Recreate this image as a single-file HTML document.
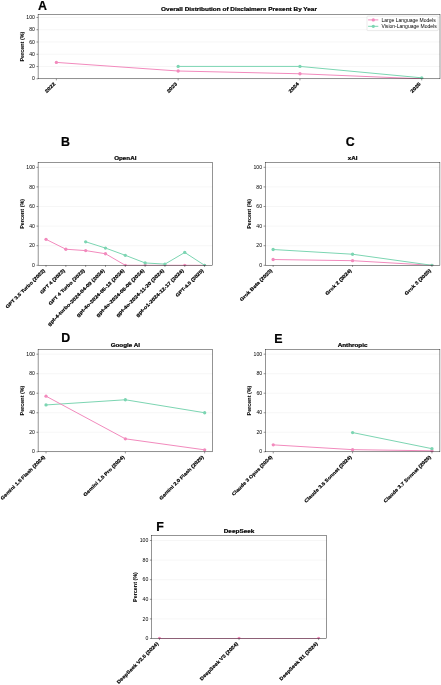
<!DOCTYPE html>
<html><head><meta charset="utf-8"><title>Disclaimers</title>
<style>
html,body{margin:0;padding:0;background:#fff;}
body{width:441px;height:685px;overflow:hidden;}
svg{display:block;font-family:"Liberation Sans",sans-serif;filter:blur(0.35px);}
</style></head><body>
<svg width="441" height="685" viewBox="0 0 441 685">
<rect width="441" height="685" fill="#fff"/>
<line x1="38.10" y1="78.80" x2="440.00" y2="78.80" stroke="#f0f0f0" stroke-width="0.6"/>
<line x1="38.10" y1="66.53" x2="440.00" y2="66.53" stroke="#f0f0f0" stroke-width="0.6"/>
<line x1="38.10" y1="54.27" x2="440.00" y2="54.27" stroke="#f0f0f0" stroke-width="0.6"/>
<line x1="38.10" y1="42.00" x2="440.00" y2="42.00" stroke="#f0f0f0" stroke-width="0.6"/>
<line x1="38.10" y1="29.73" x2="440.00" y2="29.73" stroke="#f0f0f0" stroke-width="0.6"/>
<line x1="38.10" y1="17.47" x2="440.00" y2="17.47" stroke="#f0f0f0" stroke-width="0.6"/>
<clipPath id="c1"><rect x="37.80" y="14.10" width="402.50" height="65.00"/></clipPath>
<g clip-path="url(#c1)">
<polyline points="56.37,62.42 178.16,71.01 299.94,73.77 421.73,78.80" fill="none" stroke="#f28abd" stroke-width="1.0" stroke-linejoin="round"/>
<circle cx="56.37" cy="62.42" r="1.65" fill="#f28abd"/>
<circle cx="178.16" cy="71.01" r="1.65" fill="#f28abd"/>
<circle cx="299.94" cy="73.77" r="1.65" fill="#f28abd"/>
<circle cx="421.73" cy="78.80" r="1.65" fill="#f28abd"/>
<polyline points="178.16,66.41 299.94,66.41 421.73,77.82" fill="none" stroke="#7cd5b2" stroke-width="1.0" stroke-linejoin="round"/>
<circle cx="178.16" cy="66.41" r="1.65" fill="#7cd5b2"/>
<circle cx="299.94" cy="66.41" r="1.65" fill="#7cd5b2"/>
<circle cx="421.73" cy="77.82" r="1.65" fill="#7cd5b2"/>
</g>
<rect x="38.10" y="14.40" width="401.90" height="64.40" fill="none" stroke="#000" stroke-width="0.42"/>
<line x1="36.50" y1="78.80" x2="38.10" y2="78.80" stroke="#000" stroke-width="0.42"/>
<text x="34.95" y="80.40" font-size="4.77" text-anchor="end" textLength="2.86" lengthAdjust="spacingAndGlyphs">0</text>
<line x1="36.50" y1="66.53" x2="38.10" y2="66.53" stroke="#000" stroke-width="0.42"/>
<text x="34.95" y="68.13" font-size="4.77" text-anchor="end" textLength="5.73" lengthAdjust="spacingAndGlyphs">20</text>
<line x1="36.50" y1="54.27" x2="38.10" y2="54.27" stroke="#000" stroke-width="0.42"/>
<text x="34.95" y="55.87" font-size="4.77" text-anchor="end" textLength="5.73" lengthAdjust="spacingAndGlyphs">40</text>
<line x1="36.50" y1="42.00" x2="38.10" y2="42.00" stroke="#000" stroke-width="0.42"/>
<text x="34.95" y="43.60" font-size="4.77" text-anchor="end" textLength="5.73" lengthAdjust="spacingAndGlyphs">60</text>
<line x1="36.50" y1="29.73" x2="38.10" y2="29.73" stroke="#000" stroke-width="0.42"/>
<text x="34.95" y="31.33" font-size="4.77" text-anchor="end" textLength="5.73" lengthAdjust="spacingAndGlyphs">80</text>
<line x1="36.50" y1="17.47" x2="38.10" y2="17.47" stroke="#000" stroke-width="0.42"/>
<text x="34.95" y="19.07" font-size="4.77" text-anchor="end" textLength="8.59" lengthAdjust="spacingAndGlyphs">100</text>
<line x1="56.37" y1="78.80" x2="56.37" y2="80.40" stroke="#000" stroke-width="0.42"/>
<text transform="translate(55.70,84.37) rotate(-45)" font-size="4.77" font-weight="bold" stroke="#000" stroke-width="0.18" text-anchor="end" textLength="12.52" lengthAdjust="spacingAndGlyphs">2022</text>
<line x1="178.16" y1="78.80" x2="178.16" y2="80.40" stroke="#000" stroke-width="0.42"/>
<text transform="translate(177.49,84.37) rotate(-45)" font-size="4.77" font-weight="bold" stroke="#000" stroke-width="0.18" text-anchor="end" textLength="12.52" lengthAdjust="spacingAndGlyphs">2023</text>
<line x1="299.94" y1="78.80" x2="299.94" y2="80.40" stroke="#000" stroke-width="0.42"/>
<text transform="translate(299.28,84.37) rotate(-45)" font-size="4.77" font-weight="bold" stroke="#000" stroke-width="0.18" text-anchor="end" textLength="12.52" lengthAdjust="spacingAndGlyphs">2024</text>
<line x1="421.73" y1="78.80" x2="421.73" y2="80.40" stroke="#000" stroke-width="0.42"/>
<text transform="translate(421.06,84.37) rotate(-45)" font-size="4.77" font-weight="bold" stroke="#000" stroke-width="0.18" text-anchor="end" textLength="12.52" lengthAdjust="spacingAndGlyphs">2025</text>
<text transform="translate(23.70,46.60) rotate(-90)" font-size="4.77" font-weight="bold" stroke="#000" stroke-width="0.03" text-anchor="middle" textLength="29.83" lengthAdjust="spacingAndGlyphs">Percent (%)</text>
<text x="239.05" y="11.45" font-size="5.83" font-weight="bold" stroke="#000" stroke-width="0.22" text-anchor="middle" textLength="155.83" lengthAdjust="spacingAndGlyphs">Overall Distribution of Disclaimers Present By Year</text>
<text x="38.00" y="9.60" font-size="12.4" font-weight="bold" stroke="#000" stroke-width="0.2">A</text>
<rect x="367.0" y="16.1" width="71.1" height="14.5" rx="0.9" fill="#fff" fill-opacity="0.8" stroke="#ccc" stroke-width="0.4"/>
<line x1="368.1" y1="19.9" x2="378.3" y2="19.9" stroke="#f28abd" stroke-width="1.0"/>
<circle cx="373.3" cy="19.9" r="1.65" fill="#f28abd"/>
<text x="381.50" y="21.50" font-size="4.82" textLength="54.18" lengthAdjust="spacingAndGlyphs">Large Language Models</text>
<line x1="368.1" y1="26.3" x2="378.3" y2="26.3" stroke="#7cd5b2" stroke-width="1.0"/>
<circle cx="373.3" cy="26.3" r="1.65" fill="#7cd5b2"/>
<text x="381.50" y="27.90" font-size="4.82" textLength="55.15" lengthAdjust="spacingAndGlyphs">Vision-Language Models</text>
<line x1="38.10" y1="265.30" x2="212.50" y2="265.30" stroke="#f0f0f0" stroke-width="0.6"/>
<line x1="38.10" y1="245.70" x2="212.50" y2="245.70" stroke="#f0f0f0" stroke-width="0.6"/>
<line x1="38.10" y1="226.10" x2="212.50" y2="226.10" stroke="#f0f0f0" stroke-width="0.6"/>
<line x1="38.10" y1="206.50" x2="212.50" y2="206.50" stroke="#f0f0f0" stroke-width="0.6"/>
<line x1="38.10" y1="186.90" x2="212.50" y2="186.90" stroke="#f0f0f0" stroke-width="0.6"/>
<line x1="38.10" y1="167.30" x2="212.50" y2="167.30" stroke="#f0f0f0" stroke-width="0.6"/>
<clipPath id="c2"><rect x="37.80" y="162.10" width="175.00" height="103.50"/></clipPath>
<g clip-path="url(#c2)">
<polyline points="46.03,239.33 65.85,249.23 85.66,250.60 105.48,253.74 125.30,265.30 145.12,265.30 164.94,265.30 184.75,265.30 204.57,265.30" fill="none" stroke="#f28abd" stroke-width="1.0" stroke-linejoin="round"/>
<circle cx="46.03" cy="239.33" r="1.65" fill="#f28abd"/>
<circle cx="65.85" cy="249.23" r="1.65" fill="#f28abd"/>
<circle cx="85.66" cy="250.60" r="1.65" fill="#f28abd"/>
<circle cx="105.48" cy="253.74" r="1.65" fill="#f28abd"/>
<circle cx="125.30" cy="265.30" r="1.65" fill="#f28abd"/>
<circle cx="145.12" cy="265.30" r="1.65" fill="#f28abd"/>
<circle cx="164.94" cy="265.30" r="1.65" fill="#f28abd"/>
<circle cx="184.75" cy="265.30" r="1.65" fill="#f28abd"/>
<circle cx="204.57" cy="265.30" r="1.65" fill="#f28abd"/>
<polyline points="85.66,241.78 105.48,248.05 125.30,255.30 145.12,262.95 164.94,264.12 184.75,252.46 204.57,265.30" fill="none" stroke="#7cd5b2" stroke-width="1.0" stroke-linejoin="round"/>
<circle cx="85.66" cy="241.78" r="1.65" fill="#7cd5b2"/>
<circle cx="105.48" cy="248.05" r="1.65" fill="#7cd5b2"/>
<circle cx="125.30" cy="255.30" r="1.65" fill="#7cd5b2"/>
<circle cx="145.12" cy="262.95" r="1.65" fill="#7cd5b2"/>
<circle cx="164.94" cy="264.12" r="1.65" fill="#7cd5b2"/>
<circle cx="184.75" cy="252.46" r="1.65" fill="#7cd5b2"/>
<circle cx="204.57" cy="265.30" r="1.65" fill="#7cd5b2"/>
</g>
<rect x="38.10" y="162.40" width="174.40" height="102.90" fill="none" stroke="#000" stroke-width="0.42"/>
<line x1="36.50" y1="265.30" x2="38.10" y2="265.30" stroke="#000" stroke-width="0.42"/>
<text x="34.95" y="266.90" font-size="4.77" text-anchor="end" textLength="2.86" lengthAdjust="spacingAndGlyphs">0</text>
<line x1="36.50" y1="245.70" x2="38.10" y2="245.70" stroke="#000" stroke-width="0.42"/>
<text x="34.95" y="247.30" font-size="4.77" text-anchor="end" textLength="5.73" lengthAdjust="spacingAndGlyphs">20</text>
<line x1="36.50" y1="226.10" x2="38.10" y2="226.10" stroke="#000" stroke-width="0.42"/>
<text x="34.95" y="227.70" font-size="4.77" text-anchor="end" textLength="5.73" lengthAdjust="spacingAndGlyphs">40</text>
<line x1="36.50" y1="206.50" x2="38.10" y2="206.50" stroke="#000" stroke-width="0.42"/>
<text x="34.95" y="208.10" font-size="4.77" text-anchor="end" textLength="5.73" lengthAdjust="spacingAndGlyphs">60</text>
<line x1="36.50" y1="186.90" x2="38.10" y2="186.90" stroke="#000" stroke-width="0.42"/>
<text x="34.95" y="188.50" font-size="4.77" text-anchor="end" textLength="5.73" lengthAdjust="spacingAndGlyphs">80</text>
<line x1="36.50" y1="167.30" x2="38.10" y2="167.30" stroke="#000" stroke-width="0.42"/>
<text x="34.95" y="168.90" font-size="4.77" text-anchor="end" textLength="8.59" lengthAdjust="spacingAndGlyphs">100</text>
<line x1="46.03" y1="265.30" x2="46.03" y2="266.90" stroke="#000" stroke-width="0.42"/>
<text transform="translate(45.36,270.87) rotate(-45)" font-size="4.77" font-weight="bold" stroke="#000" stroke-width="0.18" text-anchor="end" textLength="53.68" lengthAdjust="spacingAndGlyphs">GPT 3.5 Turbo (2022)</text>
<line x1="65.85" y1="265.30" x2="65.85" y2="266.90" stroke="#000" stroke-width="0.42"/>
<text transform="translate(65.18,270.87) rotate(-45)" font-size="4.77" font-weight="bold" stroke="#000" stroke-width="0.18" text-anchor="end" textLength="32.96" lengthAdjust="spacingAndGlyphs">GPT 4 (2023)</text>
<line x1="85.66" y1="265.30" x2="85.66" y2="266.90" stroke="#000" stroke-width="0.42"/>
<text transform="translate(85.00,270.87) rotate(-45)" font-size="4.77" font-weight="bold" stroke="#000" stroke-width="0.18" text-anchor="end" textLength="48.84" lengthAdjust="spacingAndGlyphs">GPT 4 Turbo (2023)</text>
<line x1="105.48" y1="265.30" x2="105.48" y2="266.90" stroke="#000" stroke-width="0.42"/>
<text transform="translate(104.81,270.87) rotate(-45)" font-size="4.77" font-weight="bold" stroke="#000" stroke-width="0.18" text-anchor="end" textLength="78.20" lengthAdjust="spacingAndGlyphs">gpt-4-turbo-2024-04-09 (2024)</text>
<line x1="125.30" y1="265.30" x2="125.30" y2="266.90" stroke="#000" stroke-width="0.42"/>
<text transform="translate(124.63,270.87) rotate(-45)" font-size="4.77" font-weight="bold" stroke="#000" stroke-width="0.18" text-anchor="end" textLength="65.54" lengthAdjust="spacingAndGlyphs">gpt-4o-2024-05-13 (2024)</text>
<line x1="145.12" y1="265.30" x2="145.12" y2="266.90" stroke="#000" stroke-width="0.42"/>
<text transform="translate(144.45,270.87) rotate(-45)" font-size="4.77" font-weight="bold" stroke="#000" stroke-width="0.18" text-anchor="end" textLength="65.54" lengthAdjust="spacingAndGlyphs">gpt-4o-2024-08-06 (2024)</text>
<line x1="164.94" y1="265.30" x2="164.94" y2="266.90" stroke="#000" stroke-width="0.42"/>
<text transform="translate(164.27,270.87) rotate(-45)" font-size="4.77" font-weight="bold" stroke="#000" stroke-width="0.18" text-anchor="end" textLength="65.54" lengthAdjust="spacingAndGlyphs">gpt-4o-2024-11-20 (2024)</text>
<line x1="184.75" y1="265.30" x2="184.75" y2="266.90" stroke="#000" stroke-width="0.42"/>
<text transform="translate(184.09,270.87) rotate(-45)" font-size="4.77" font-weight="bold" stroke="#000" stroke-width="0.18" text-anchor="end" textLength="65.54" lengthAdjust="spacingAndGlyphs">gpt-o1-2024-12-17 (2024)</text>
<line x1="204.57" y1="265.30" x2="204.57" y2="266.90" stroke="#000" stroke-width="0.42"/>
<text transform="translate(203.90,270.87) rotate(-45)" font-size="4.77" font-weight="bold" stroke="#000" stroke-width="0.18" text-anchor="end" textLength="37.44" lengthAdjust="spacingAndGlyphs">GPT-4.5 (2025)</text>
<text transform="translate(23.70,213.85) rotate(-90)" font-size="4.77" font-weight="bold" stroke="#000" stroke-width="0.03" text-anchor="middle" textLength="29.83" lengthAdjust="spacingAndGlyphs">Percent (%)</text>
<text x="125.30" y="159.85" font-size="5.83" font-weight="bold" stroke="#000" stroke-width="0.22" text-anchor="middle" textLength="22.22" lengthAdjust="spacingAndGlyphs">OpenAI</text>
<text x="61.00" y="146.30" font-size="12.4" font-weight="bold" stroke="#000" stroke-width="0.2">B</text>
<line x1="265.20" y1="265.30" x2="439.90" y2="265.30" stroke="#f0f0f0" stroke-width="0.6"/>
<line x1="265.20" y1="245.70" x2="439.90" y2="245.70" stroke="#f0f0f0" stroke-width="0.6"/>
<line x1="265.20" y1="226.10" x2="439.90" y2="226.10" stroke="#f0f0f0" stroke-width="0.6"/>
<line x1="265.20" y1="206.50" x2="439.90" y2="206.50" stroke="#f0f0f0" stroke-width="0.6"/>
<line x1="265.20" y1="186.90" x2="439.90" y2="186.90" stroke="#f0f0f0" stroke-width="0.6"/>
<line x1="265.20" y1="167.30" x2="439.90" y2="167.30" stroke="#f0f0f0" stroke-width="0.6"/>
<clipPath id="c3"><rect x="264.90" y="162.10" width="175.30" height="103.50"/></clipPath>
<g clip-path="url(#c3)">
<polyline points="273.14,259.52 352.55,260.69 431.96,265.30" fill="none" stroke="#f28abd" stroke-width="1.0" stroke-linejoin="round"/>
<circle cx="273.14" cy="259.52" r="1.65" fill="#f28abd"/>
<circle cx="352.55" cy="260.69" r="1.65" fill="#f28abd"/>
<circle cx="431.96" cy="265.30" r="1.65" fill="#f28abd"/>
<polyline points="273.14,249.52 352.55,254.23 431.96,265.30" fill="none" stroke="#7cd5b2" stroke-width="1.0" stroke-linejoin="round"/>
<circle cx="273.14" cy="249.52" r="1.65" fill="#7cd5b2"/>
<circle cx="352.55" cy="254.23" r="1.65" fill="#7cd5b2"/>
<circle cx="431.96" cy="265.30" r="1.65" fill="#7cd5b2"/>
</g>
<rect x="265.20" y="162.40" width="174.70" height="102.90" fill="none" stroke="#000" stroke-width="0.42"/>
<line x1="263.60" y1="265.30" x2="265.20" y2="265.30" stroke="#000" stroke-width="0.42"/>
<text x="262.05" y="266.90" font-size="4.77" text-anchor="end" textLength="2.86" lengthAdjust="spacingAndGlyphs">0</text>
<line x1="263.60" y1="245.70" x2="265.20" y2="245.70" stroke="#000" stroke-width="0.42"/>
<text x="262.05" y="247.30" font-size="4.77" text-anchor="end" textLength="5.73" lengthAdjust="spacingAndGlyphs">20</text>
<line x1="263.60" y1="226.10" x2="265.20" y2="226.10" stroke="#000" stroke-width="0.42"/>
<text x="262.05" y="227.70" font-size="4.77" text-anchor="end" textLength="5.73" lengthAdjust="spacingAndGlyphs">40</text>
<line x1="263.60" y1="206.50" x2="265.20" y2="206.50" stroke="#000" stroke-width="0.42"/>
<text x="262.05" y="208.10" font-size="4.77" text-anchor="end" textLength="5.73" lengthAdjust="spacingAndGlyphs">60</text>
<line x1="263.60" y1="186.90" x2="265.20" y2="186.90" stroke="#000" stroke-width="0.42"/>
<text x="262.05" y="188.50" font-size="4.77" text-anchor="end" textLength="5.73" lengthAdjust="spacingAndGlyphs">80</text>
<line x1="263.60" y1="167.30" x2="265.20" y2="167.30" stroke="#000" stroke-width="0.42"/>
<text x="262.05" y="168.90" font-size="4.77" text-anchor="end" textLength="8.59" lengthAdjust="spacingAndGlyphs">100</text>
<line x1="273.14" y1="265.30" x2="273.14" y2="266.90" stroke="#000" stroke-width="0.42"/>
<text transform="translate(272.47,270.87) rotate(-45)" font-size="4.77" font-weight="bold" stroke="#000" stroke-width="0.18" text-anchor="end" textLength="43.44" lengthAdjust="spacingAndGlyphs">Grok Beta (2023)</text>
<line x1="352.55" y1="265.30" x2="352.55" y2="266.90" stroke="#000" stroke-width="0.42"/>
<text transform="translate(351.88,270.87) rotate(-45)" font-size="4.77" font-weight="bold" stroke="#000" stroke-width="0.18" text-anchor="end" textLength="34.90" lengthAdjust="spacingAndGlyphs">Grok 2 (2024)</text>
<line x1="431.96" y1="265.30" x2="431.96" y2="266.90" stroke="#000" stroke-width="0.42"/>
<text transform="translate(431.29,270.87) rotate(-45)" font-size="4.77" font-weight="bold" stroke="#000" stroke-width="0.18" text-anchor="end" textLength="34.90" lengthAdjust="spacingAndGlyphs">Grok 3 (2025)</text>
<text transform="translate(250.80,213.85) rotate(-90)" font-size="4.77" font-weight="bold" stroke="#000" stroke-width="0.03" text-anchor="middle" textLength="29.83" lengthAdjust="spacingAndGlyphs">Percent (%)</text>
<text x="352.55" y="159.85" font-size="5.83" font-weight="bold" stroke="#000" stroke-width="0.22" text-anchor="middle" textLength="9.70" lengthAdjust="spacingAndGlyphs">xAI</text>
<text x="345.70" y="146.20" font-size="12.4" font-weight="bold" stroke="#000" stroke-width="0.2">C</text>
<line x1="38.10" y1="451.80" x2="212.60" y2="451.80" stroke="#f0f0f0" stroke-width="0.6"/>
<line x1="38.10" y1="432.28" x2="212.60" y2="432.28" stroke="#f0f0f0" stroke-width="0.6"/>
<line x1="38.10" y1="412.75" x2="212.60" y2="412.75" stroke="#f0f0f0" stroke-width="0.6"/>
<line x1="38.10" y1="393.23" x2="212.60" y2="393.23" stroke="#f0f0f0" stroke-width="0.6"/>
<line x1="38.10" y1="373.70" x2="212.60" y2="373.70" stroke="#f0f0f0" stroke-width="0.6"/>
<line x1="38.10" y1="354.18" x2="212.60" y2="354.18" stroke="#f0f0f0" stroke-width="0.6"/>
<clipPath id="c4"><rect x="37.80" y="349.00" width="175.10" height="103.10"/></clipPath>
<g clip-path="url(#c4)">
<polyline points="46.03,404.94 125.35,399.77 204.67,412.75" fill="none" stroke="#7cd5b2" stroke-width="1.0" stroke-linejoin="round"/>
<circle cx="46.03" cy="404.94" r="1.65" fill="#7cd5b2"/>
<circle cx="125.35" cy="399.77" r="1.65" fill="#7cd5b2"/>
<circle cx="204.67" cy="412.75" r="1.65" fill="#7cd5b2"/>
<polyline points="46.03,396.16 125.35,438.82 204.67,449.85" fill="none" stroke="#f28abd" stroke-width="1.0" stroke-linejoin="round"/>
<circle cx="46.03" cy="396.16" r="1.65" fill="#f28abd"/>
<circle cx="125.35" cy="438.82" r="1.65" fill="#f28abd"/>
<circle cx="204.67" cy="449.85" r="1.65" fill="#f28abd"/>
</g>
<rect x="38.10" y="349.30" width="174.50" height="102.50" fill="none" stroke="#000" stroke-width="0.42"/>
<line x1="36.50" y1="451.80" x2="38.10" y2="451.80" stroke="#000" stroke-width="0.42"/>
<text x="34.95" y="453.40" font-size="4.77" text-anchor="end" textLength="2.86" lengthAdjust="spacingAndGlyphs">0</text>
<line x1="36.50" y1="432.28" x2="38.10" y2="432.28" stroke="#000" stroke-width="0.42"/>
<text x="34.95" y="433.88" font-size="4.77" text-anchor="end" textLength="5.73" lengthAdjust="spacingAndGlyphs">20</text>
<line x1="36.50" y1="412.75" x2="38.10" y2="412.75" stroke="#000" stroke-width="0.42"/>
<text x="34.95" y="414.35" font-size="4.77" text-anchor="end" textLength="5.73" lengthAdjust="spacingAndGlyphs">40</text>
<line x1="36.50" y1="393.23" x2="38.10" y2="393.23" stroke="#000" stroke-width="0.42"/>
<text x="34.95" y="394.83" font-size="4.77" text-anchor="end" textLength="5.73" lengthAdjust="spacingAndGlyphs">60</text>
<line x1="36.50" y1="373.70" x2="38.10" y2="373.70" stroke="#000" stroke-width="0.42"/>
<text x="34.95" y="375.30" font-size="4.77" text-anchor="end" textLength="5.73" lengthAdjust="spacingAndGlyphs">80</text>
<line x1="36.50" y1="354.18" x2="38.10" y2="354.18" stroke="#000" stroke-width="0.42"/>
<text x="34.95" y="355.78" font-size="4.77" text-anchor="end" textLength="8.59" lengthAdjust="spacingAndGlyphs">100</text>
<line x1="46.03" y1="451.80" x2="46.03" y2="453.40" stroke="#000" stroke-width="0.42"/>
<text transform="translate(45.36,457.37) rotate(-45)" font-size="4.77" font-weight="bold" stroke="#000" stroke-width="0.18" text-anchor="end" textLength="60.57" lengthAdjust="spacingAndGlyphs">Gemini 1.5 Flash (2024)</text>
<line x1="125.35" y1="451.80" x2="125.35" y2="453.40" stroke="#000" stroke-width="0.42"/>
<text transform="translate(124.68,457.37) rotate(-45)" font-size="4.77" font-weight="bold" stroke="#000" stroke-width="0.18" text-anchor="end" textLength="55.64" lengthAdjust="spacingAndGlyphs">Gemini 1.5 Pro (2024)</text>
<line x1="204.67" y1="451.80" x2="204.67" y2="453.40" stroke="#000" stroke-width="0.42"/>
<text transform="translate(204.00,457.37) rotate(-45)" font-size="4.77" font-weight="bold" stroke="#000" stroke-width="0.18" text-anchor="end" textLength="60.57" lengthAdjust="spacingAndGlyphs">Gemini 2.0 Flash (2025)</text>
<text transform="translate(23.70,400.55) rotate(-90)" font-size="4.77" font-weight="bold" stroke="#000" stroke-width="0.03" text-anchor="middle" textLength="29.83" lengthAdjust="spacingAndGlyphs">Percent (%)</text>
<text x="125.35" y="346.75" font-size="5.83" font-weight="bold" stroke="#000" stroke-width="0.22" text-anchor="middle" textLength="29.39" lengthAdjust="spacingAndGlyphs">Google AI</text>
<text x="61.30" y="342.40" font-size="12.4" font-weight="bold" stroke="#000" stroke-width="0.2">D</text>
<line x1="265.30" y1="451.80" x2="439.90" y2="451.80" stroke="#f0f0f0" stroke-width="0.6"/>
<line x1="265.30" y1="432.28" x2="439.90" y2="432.28" stroke="#f0f0f0" stroke-width="0.6"/>
<line x1="265.30" y1="412.75" x2="439.90" y2="412.75" stroke="#f0f0f0" stroke-width="0.6"/>
<line x1="265.30" y1="393.23" x2="439.90" y2="393.23" stroke="#f0f0f0" stroke-width="0.6"/>
<line x1="265.30" y1="373.70" x2="439.90" y2="373.70" stroke="#f0f0f0" stroke-width="0.6"/>
<line x1="265.30" y1="354.18" x2="439.90" y2="354.18" stroke="#f0f0f0" stroke-width="0.6"/>
<clipPath id="c5"><rect x="265.00" y="349.00" width="175.20" height="103.10"/></clipPath>
<g clip-path="url(#c5)">
<polyline points="273.24,444.87 352.60,449.65 431.96,450.82" fill="none" stroke="#f28abd" stroke-width="1.0" stroke-linejoin="round"/>
<circle cx="273.24" cy="444.87" r="1.65" fill="#f28abd"/>
<circle cx="352.60" cy="449.65" r="1.65" fill="#f28abd"/>
<circle cx="431.96" cy="450.82" r="1.65" fill="#f28abd"/>
<polyline points="352.60,432.57 431.96,448.68" fill="none" stroke="#7cd5b2" stroke-width="1.0" stroke-linejoin="round"/>
<circle cx="352.60" cy="432.57" r="1.65" fill="#7cd5b2"/>
<circle cx="431.96" cy="448.68" r="1.65" fill="#7cd5b2"/>
</g>
<rect x="265.30" y="349.30" width="174.60" height="102.50" fill="none" stroke="#000" stroke-width="0.42"/>
<line x1="263.70" y1="451.80" x2="265.30" y2="451.80" stroke="#000" stroke-width="0.42"/>
<text x="262.15" y="453.40" font-size="4.77" text-anchor="end" textLength="2.86" lengthAdjust="spacingAndGlyphs">0</text>
<line x1="263.70" y1="432.28" x2="265.30" y2="432.28" stroke="#000" stroke-width="0.42"/>
<text x="262.15" y="433.88" font-size="4.77" text-anchor="end" textLength="5.73" lengthAdjust="spacingAndGlyphs">20</text>
<line x1="263.70" y1="412.75" x2="265.30" y2="412.75" stroke="#000" stroke-width="0.42"/>
<text x="262.15" y="414.35" font-size="4.77" text-anchor="end" textLength="5.73" lengthAdjust="spacingAndGlyphs">40</text>
<line x1="263.70" y1="393.23" x2="265.30" y2="393.23" stroke="#000" stroke-width="0.42"/>
<text x="262.15" y="394.83" font-size="4.77" text-anchor="end" textLength="5.73" lengthAdjust="spacingAndGlyphs">60</text>
<line x1="263.70" y1="373.70" x2="265.30" y2="373.70" stroke="#000" stroke-width="0.42"/>
<text x="262.15" y="375.30" font-size="4.77" text-anchor="end" textLength="5.73" lengthAdjust="spacingAndGlyphs">80</text>
<line x1="263.70" y1="354.18" x2="265.30" y2="354.18" stroke="#000" stroke-width="0.42"/>
<text x="262.15" y="355.78" font-size="4.77" text-anchor="end" textLength="8.59" lengthAdjust="spacingAndGlyphs">100</text>
<line x1="273.24" y1="451.80" x2="273.24" y2="453.40" stroke="#000" stroke-width="0.42"/>
<text transform="translate(272.57,457.37) rotate(-45)" font-size="4.77" font-weight="bold" stroke="#000" stroke-width="0.18" text-anchor="end" textLength="54.76" lengthAdjust="spacingAndGlyphs">Claude 3 Opus (2024)</text>
<line x1="352.60" y1="451.80" x2="352.60" y2="453.40" stroke="#000" stroke-width="0.42"/>
<text transform="translate(351.93,457.37) rotate(-45)" font-size="4.77" font-weight="bold" stroke="#000" stroke-width="0.18" text-anchor="end" textLength="64.61" lengthAdjust="spacingAndGlyphs">Claude 3.5 Sonnet (2024)</text>
<line x1="431.96" y1="451.80" x2="431.96" y2="453.40" stroke="#000" stroke-width="0.42"/>
<text transform="translate(431.30,457.37) rotate(-45)" font-size="4.77" font-weight="bold" stroke="#000" stroke-width="0.18" text-anchor="end" textLength="64.61" lengthAdjust="spacingAndGlyphs">Claude 3.7 Sonnet (2025)</text>
<text transform="translate(250.90,400.55) rotate(-90)" font-size="4.77" font-weight="bold" stroke="#000" stroke-width="0.03" text-anchor="middle" textLength="29.83" lengthAdjust="spacingAndGlyphs">Percent (%)</text>
<text x="352.60" y="346.75" font-size="5.83" font-weight="bold" stroke="#000" stroke-width="0.22" text-anchor="middle" textLength="29.84" lengthAdjust="spacingAndGlyphs">Anthropic</text>
<text x="274.30" y="342.60" font-size="12.4" font-weight="bold" stroke="#000" stroke-width="0.2">E</text>
<line x1="151.50" y1="638.50" x2="326.60" y2="638.50" stroke="#f0f0f0" stroke-width="0.6"/>
<line x1="151.50" y1="618.90" x2="326.60" y2="618.90" stroke="#f0f0f0" stroke-width="0.6"/>
<line x1="151.50" y1="599.30" x2="326.60" y2="599.30" stroke="#f0f0f0" stroke-width="0.6"/>
<line x1="151.50" y1="579.70" x2="326.60" y2="579.70" stroke="#f0f0f0" stroke-width="0.6"/>
<line x1="151.50" y1="560.10" x2="326.60" y2="560.10" stroke="#f0f0f0" stroke-width="0.6"/>
<line x1="151.50" y1="540.50" x2="326.60" y2="540.50" stroke="#f0f0f0" stroke-width="0.6"/>
<clipPath id="c6"><rect x="151.20" y="535.30" width="175.70" height="103.50"/></clipPath>
<g clip-path="url(#c6)">
<polyline points="159.46,638.50 239.05,638.50 318.64,638.50" fill="none" stroke="#f28abd" stroke-width="1.0" stroke-linejoin="round"/>
<circle cx="159.46" cy="638.50" r="1.65" fill="#f28abd"/>
<circle cx="239.05" cy="638.50" r="1.65" fill="#f28abd"/>
<circle cx="318.64" cy="638.50" r="1.65" fill="#f28abd"/>
</g>
<rect x="151.50" y="535.60" width="175.10" height="102.90" fill="none" stroke="#000" stroke-width="0.42"/>
<line x1="149.90" y1="638.50" x2="151.50" y2="638.50" stroke="#000" stroke-width="0.42"/>
<text x="148.35" y="640.10" font-size="4.77" text-anchor="end" textLength="2.86" lengthAdjust="spacingAndGlyphs">0</text>
<line x1="149.90" y1="618.90" x2="151.50" y2="618.90" stroke="#000" stroke-width="0.42"/>
<text x="148.35" y="620.50" font-size="4.77" text-anchor="end" textLength="5.73" lengthAdjust="spacingAndGlyphs">20</text>
<line x1="149.90" y1="599.30" x2="151.50" y2="599.30" stroke="#000" stroke-width="0.42"/>
<text x="148.35" y="600.90" font-size="4.77" text-anchor="end" textLength="5.73" lengthAdjust="spacingAndGlyphs">40</text>
<line x1="149.90" y1="579.70" x2="151.50" y2="579.70" stroke="#000" stroke-width="0.42"/>
<text x="148.35" y="581.30" font-size="4.77" text-anchor="end" textLength="5.73" lengthAdjust="spacingAndGlyphs">60</text>
<line x1="149.90" y1="560.10" x2="151.50" y2="560.10" stroke="#000" stroke-width="0.42"/>
<text x="148.35" y="561.70" font-size="4.77" text-anchor="end" textLength="5.73" lengthAdjust="spacingAndGlyphs">80</text>
<line x1="149.90" y1="540.50" x2="151.50" y2="540.50" stroke="#000" stroke-width="0.42"/>
<text x="148.35" y="542.10" font-size="4.77" text-anchor="end" textLength="8.59" lengthAdjust="spacingAndGlyphs">100</text>
<line x1="159.46" y1="638.50" x2="159.46" y2="640.10" stroke="#000" stroke-width="0.42"/>
<text transform="translate(158.79,644.07) rotate(-45)" font-size="4.77" font-weight="bold" stroke="#000" stroke-width="0.18" text-anchor="end" textLength="56.62" lengthAdjust="spacingAndGlyphs">DeepSeek V2.5 (2024)</text>
<line x1="239.05" y1="638.50" x2="239.05" y2="640.10" stroke="#000" stroke-width="0.42"/>
<text transform="translate(238.38,644.07) rotate(-45)" font-size="4.77" font-weight="bold" stroke="#000" stroke-width="0.18" text-anchor="end" textLength="51.78" lengthAdjust="spacingAndGlyphs">DeepSeek V3 (2024)</text>
<line x1="318.64" y1="638.50" x2="318.64" y2="640.10" stroke="#000" stroke-width="0.42"/>
<text transform="translate(317.97,644.07) rotate(-45)" font-size="4.77" font-weight="bold" stroke="#000" stroke-width="0.18" text-anchor="end" textLength="51.77" lengthAdjust="spacingAndGlyphs">DeepSeek R1 (2024)</text>
<text transform="translate(137.10,587.05) rotate(-90)" font-size="4.77" font-weight="bold" stroke="#000" stroke-width="0.03" text-anchor="middle" textLength="29.83" lengthAdjust="spacingAndGlyphs">Percent (%)</text>
<text x="239.05" y="533.05" font-size="5.83" font-weight="bold" stroke="#000" stroke-width="0.22" text-anchor="middle" textLength="30.58" lengthAdjust="spacingAndGlyphs">DeepSeek</text>
<text x="156.20" y="530.60" font-size="12.4" font-weight="bold" stroke="#000" stroke-width="0.2">F</text>
</svg>
</body></html>
